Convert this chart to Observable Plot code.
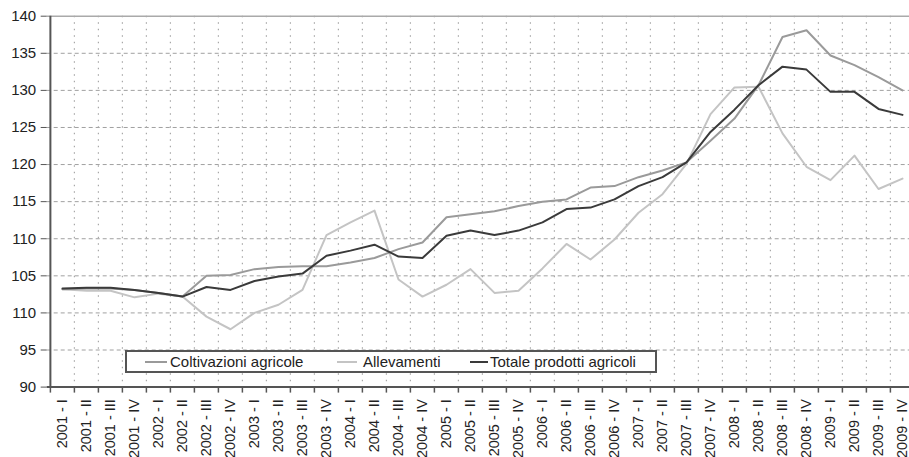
<!DOCTYPE html>
<html><head><meta charset="utf-8">
<script src="https://cdn.jsdelivr.net/npm/d3@7"></script>
<script src="https://cdn.jsdelivr.net/npm/@observablehq/plot@0.6"></script>
<style>
html,body{margin:0;padding:0;background:#fff;overflow:hidden;}
#wrap{position:relative;width:909px;height:457px;overflow:hidden;font-family:"Liberation Sans",Arial,sans-serif;}
#legend{position:absolute;left:125px;top:350px;width:532px;height:23px;box-sizing:border-box;border:2px solid #555;background:#fff;}
.item{position:absolute;top:0;height:19px;line-height:19px;font-size:15px;color:#222;white-space:nowrap;}
.sw{position:absolute;height:2px;top:9px;}
</style></head><body><div id="wrap"><div id="chart"></div><div id="legend"></div></div>
<script>
const years = ["2001","2002","2003","2004","2005","2006","2007","2008","2009"];
const quarters = ["I","II","III","IV"];
const coltivazioni = [103.2,103.3,103.3,103.1,102.7,102.2,105.0,105.1,105.9,106.2,106.3,106.3,
  106.8,107.4,108.6,109.5,112.9,113.3,113.7,114.4,115.0,115.3,116.9,117.1,
  118.3,119.2,120.3,123.2,126.2,130.7,137.2,138.1,134.7,133.4,131.8,130.0];
const allevamenti = [103.2,103.0,103.0,102.1,102.6,102.2,99.5,97.8,100.0,101.1,103.1,110.5,
  112.2,113.8,104.5,102.2,103.8,105.9,102.7,103.0,106.0,109.3,107.2,109.9,
  113.5,116.0,120.1,126.8,130.4,130.5,124.2,119.7,117.9,121.2,116.7,118.1];
const totale = [103.3,103.4,103.4,103.1,102.7,102.2,103.5,103.1,104.3,104.9,105.3,107.7,
  108.4,109.2,107.6,107.4,110.4,111.1,110.5,111.1,112.2,114.0,114.2,115.3,
  117.1,118.3,120.3,124.4,127.4,130.7,133.2,132.8,129.8,129.8,127.5,126.7];
const yTicks = [90,95,100,105,110,115,120,125,130,135,140];
const yTickLabels = ["90","95","110","105","110","115","120","125","130","135","140"];
const seriesNames = ["Coltivazioni agricole","Allevamenti","Totale prodotti agricoli"];
const seriesColors = ["#9a9a9a","#c4c4c4","#3a3a3a"];

const xCats = years.flatMap(y => quarters.map(q => `${y} - ${q}`));
const yLabel = new Map(yTicks.map((v, i) => [v, yTickLabels[i]]));
const W = 909, H = 457, mL = 46.7, mR = -9.3, mT = 15.7, mB = 70.4;
const bw = (W - mR - mL) / xCats.length;
const mk = arr => xCats.map((x, i) => ({x, v: arr[i]}));

const chart = Plot.plot({
  width: W, height: H, marginLeft: mL, marginRight: mR, marginTop: mT, marginBottom: mB,
  style: {fontFamily: "Liberation Sans, Arial, sans-serif", fontSize: "14px", color: "#222", background: "white"},
  x: {type: "band", domain: xCats, padding: 0},
  y: {domain: [90, 140]},
  marks: [
    Plot.gridY(yTicks.filter(v => v > 90 && v < 140), {stroke: "#a0a0a0", strokeOpacity: 1, strokeDasharray: "4,3", strokeWidth: 1}),
    Plot.ruleX(xCats.slice(1), {x: d => d, dx: -bw / 2, stroke: "#a8a8a8", strokeDasharray: "1.5,5", strokeWidth: 1.2}),
    Plot.ruleY([140], {stroke: "#aaa", strokeWidth: 1.5}),
    Plot.line(mk(allevamenti), {x: "x", y: "v", stroke: seriesColors[1], strokeWidth: 2}),
    Plot.line(mk(coltivazioni), {x: "x", y: "v", stroke: seriesColors[0], strokeWidth: 2}),
    Plot.line(mk(totale), {x: "x", y: "v", stroke: seriesColors[2], strokeWidth: 2}),
    Plot.ruleX([xCats[0]], {x: d => d, dx: -bw / 2, stroke: "#555", strokeWidth: 2}),
    Plot.ruleY([90], {stroke: "#555", strokeWidth: 2}),
    Plot.ruleX(xCats, {x: d => d, y1: 90, y2: 90, insetBottom: -6, dx: -bw / 2, stroke: "#555", strokeWidth: 1.5}),
    Plot.axisY({ticks: yTicks, tickFormat: d => yLabel.get(d), tickSize: 6, tickPadding: 5, fontSize: 15, stroke: "#555", label: null}),
    Plot.axisX({tickSize: 0, tickPadding: 12, tickRotate: -90, fontSize: 14.5, label: null})
  ]
});
document.getElementById("chart").appendChild(chart);

const legend = document.getElementById("legend");
const pos = [[18, 22, 43], [210, 20, 236], [343, 18, 363]];
seriesNames.forEach((name, i) => {
  const [sx, sw, tx] = pos[i];
  const s = document.createElement("div");
  s.className = "sw"; s.style.left = sx + "px"; s.style.width = sw + "px"; s.style.background = seriesColors[i];
  legend.appendChild(s);
  const t = document.createElement("div");
  t.className = "item"; t.style.left = tx + "px"; t.textContent = name;
  legend.appendChild(t);
});
</script></body></html>
